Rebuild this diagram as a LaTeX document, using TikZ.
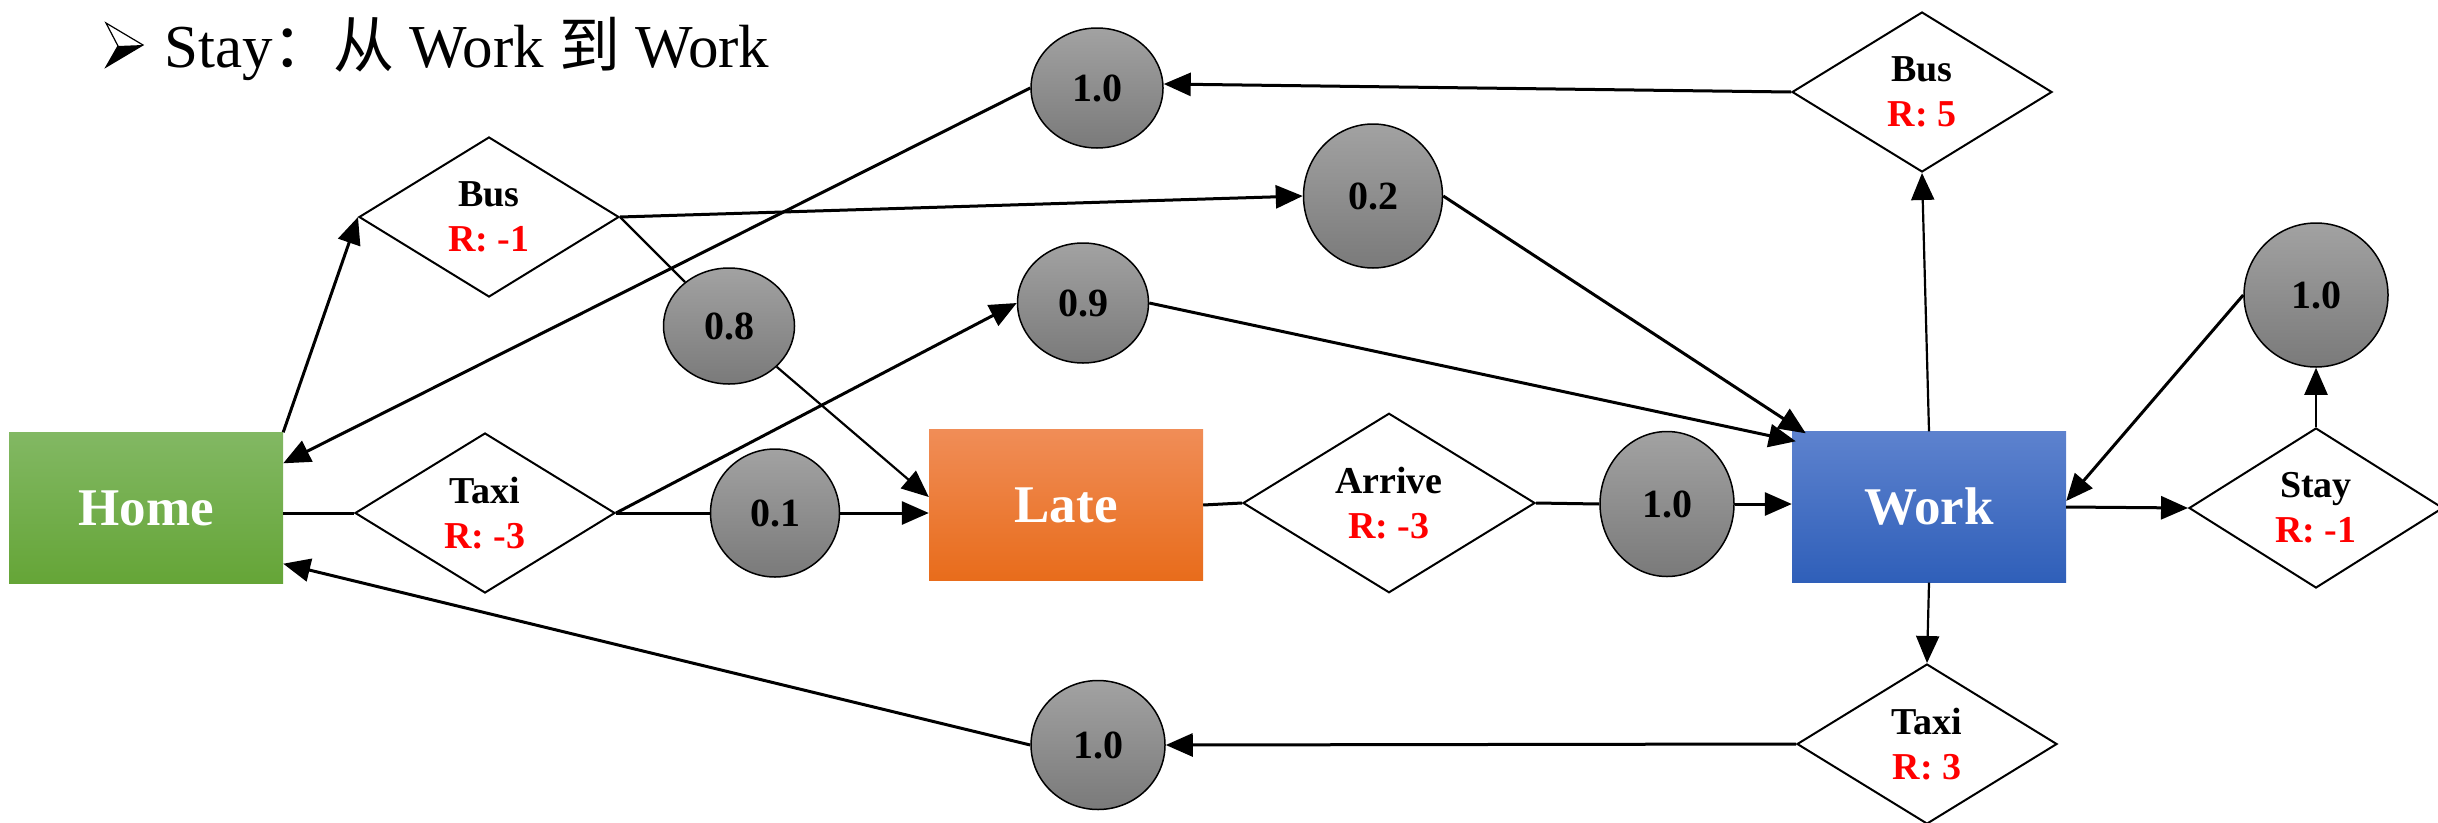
\documentclass[tikz,border=0pt]{standalone}
\usepackage{fontspec}
\setmainfont{Liberation Serif}
\newfontfamily\tnr{Liberation Serif}
\newfontfamily\cjk{Noto Sans CJK SC}
\usetikzlibrary{shapes.geometric,arrows.meta,shadings}

\definecolor{probtop}{HTML}{A2A2A2}
\definecolor{probbot}{HTML}{7A7A7A}
\definecolor{hometop}{HTML}{82B863}
\definecolor{homebot}{HTML}{65A537}
\definecolor{latetop}{HTML}{F08D57}
\definecolor{latebot}{HTML}{E86C1B}
\definecolor{worktop}{HTML}{5D82CE}
\definecolor{workbot}{HTML}{2F5FB9}
\definecolor{rewardred}{HTML}{FF0000}

\begin{document}
\begin{tikzpicture}[x=1pt,y=-1pt,
  state/.style={rectangle, minimum width=274pt, minimum height=151pt,
    inner sep=0pt, text=white, font=\tnr\bfseries\fontsize{53}{60}\selectfont},
  act/.style={diamond, draw=black, line width=2pt, fill=white,
    minimum width=260pt, minimum height=160pt, inner sep=0pt, align=center,
    font=\tnr\bfseries\fontsize{38}{45}\selectfont},
  prob/.style={ellipse, draw=black, line width=1.5pt, top color=probtop,
    bottom color=probbot, inner sep=0pt, font=\tnr\bfseries\fontsize{40}{46}\selectfont},
  link/.style={line width=3pt},
  thinlink/.style={line width=2.2pt},
  tip/.style={-{Triangle[length=27pt,width=23pt]}}
]
\useasboundingbox (0,0) rectangle (2438,822);

% heading with 3D arrow bullet
\draw[line width=1.2pt, line join=miter] (106,23) -- (143,45) -- (106,67) -- (118,46) -- cycle;
\fill[black] (118,46) -- (143,45) -- (106,67) -- cycle;
\node[anchor=base west, inner sep=0pt, font=\tnr\fontsize{61}{67}\selectfont] (title) at (164,67)
  {Stay{\cjk ：从} Work {\cjk 到} Work};

% states
\node[state, top color=hometop, bottom color=homebot] (home) at (146,508) {Home};
\node[state, top color=latetop, bottom color=latebot] (late) at (1066,505) {Late};
\node[state, top color=worktop, bottom color=workbot] (work) at (1929,507) {Work};

% actions
\node[act] (bus1) at (489,217) {Bus\\\textcolor{rewardred}{R: -1}};
\node[act] (taxi1) at (485,513) {Taxi\\\textcolor{rewardred}{R: -3}};
\node[act, minimum width=292pt] (arrive) at (1389,503) {Arrive\\\textcolor{rewardred}{R: -3}};
\node[act] (bus2) at (1922,92) {Bus\\\textcolor{rewardred}{R: 5}};
\node[act] (taxi2) at (1927,744) {Taxi\\\textcolor{rewardred}{R: 3}};
\node[act, minimum width=254pt] (stay) at (2316,508) {Stay\\\textcolor{rewardred}{R: -1}};

% transition probabilities
\node[prob, minimum width=132pt, minimum height=120pt] (pa) at (1097,88) {1.0};
\node[prob, minimum width=139pt, minimum height=144pt] (pb) at (1373,196) {0.2};
\node[prob, minimum width=131pt, minimum height=120pt] (pc) at (1083,303) {0.9};
\node[prob, minimum width=131pt, minimum height=116pt] (pd) at (729,326) {0.8};
\node[prob, minimum width=129pt, minimum height=128pt] (pe) at (775,513) {0.1};
\node[prob, minimum width=134pt, minimum height=145pt] (pf) at (1667,504) {1.0};
\node[prob, minimum width=144pt, minimum height=144pt] (pg) at (2316,295) {1.0};
\node[prob, minimum width=134pt, minimum height=129pt] (ph) at (1098,745) {1.0};

% from Home
\draw[link, tip] (home.north east) -- (bus1.west);
\draw[link] ([yshift=-5pt]home.east) -- (taxi1.west);
\draw[link, tip] (bus1.east) -- (pb.west);
\draw[thinlink] (bus1.east) -- (pd);
\draw[thinlink, tip] (pd) -- ([yshift=8pt]late.west);
\draw[link] (taxi1.east) -- (pe.west);
\draw[link, tip] (pe.east) -- (late.west |- pe.east);
\draw[link, tip] (taxi1.east) -- (pc.west);
\draw[link, tip] (pc.east) -- ([xshift=4pt,yshift=-10pt]work.north west);
\draw[link, tip] (pb.east) -- ([xshift=14pt,yshift=-2pt]work.north west);

% from Late
\draw[link] (late.east) -- (arrive.west);
\draw[link] (arrive.east) -- (pf.west);
\draw[link, tip] (pf.east) -- (work.west |- pf.east);

% from Work
\draw[thinlink, tip] (work.north) -- (bus2.south);
\draw[link, tip] (bus2.west) -- ([yshift=4pt]pa.east);
\draw[link, tip] (pa.west) -- ([yshift=-31pt]home.north east);
\draw[thinlink, tip] (work.south) -- (taxi2.north);
\draw[link, tip] (taxi2.west) -- (ph.east);
\draw[link, tip] (ph.west) -- ([yshift=20pt]home.south east);
\draw[link, tip] (work.east) -- (stay.west);
\draw[thinlink, tip] (stay.north) -- (pg.south);
\draw[link, tip] (pg.west) -- ([yshift=6pt]work.east);
\end{tikzpicture}
\end{document}
